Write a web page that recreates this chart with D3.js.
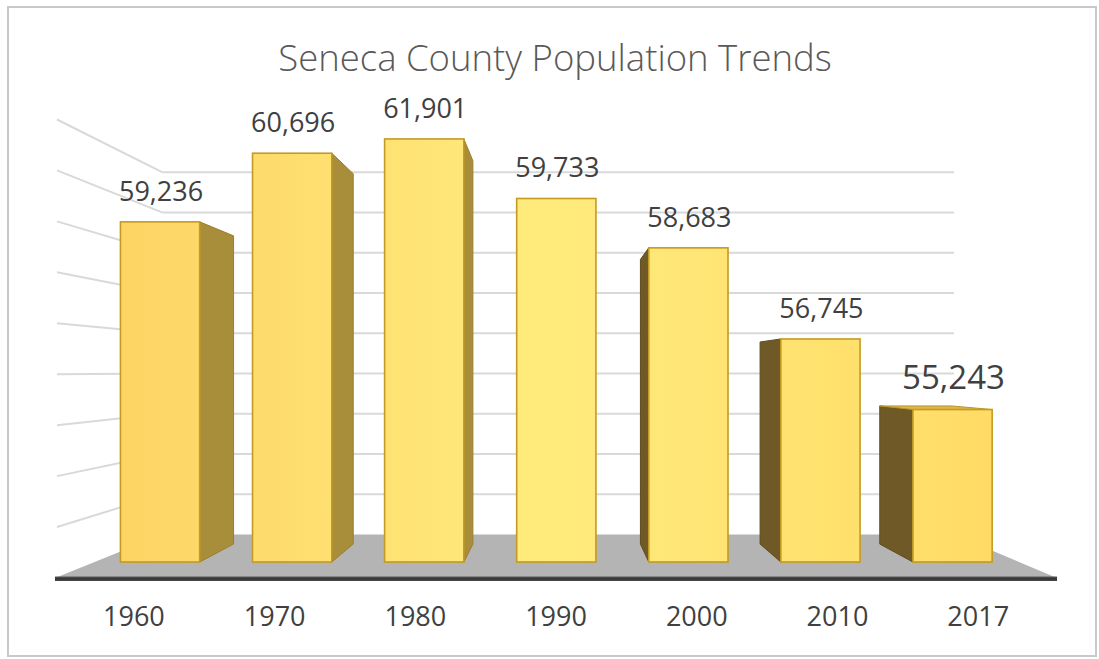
<!DOCTYPE html>
<html>
<head>
<meta charset="utf-8">
<script src="https://cdn.jsdelivr.net/npm/d3@7"></script>
<style>
  html, body { margin: 0; padding: 0; background: #ffffff; }
  svg { display: block; }
  text { font-family: "Open Sans", "Noto Sans", sans-serif; }
</style>
</head>
<body>
<svg id="chart" width="1099" height="659"></svg>
<script>
// Census counts for Seneca County
const years = ["1960", "1970", "1980", "1990", "2000", "2010", "2017"];
const population = [59236, 60696, 61901, 59733, 58683, 56745, 55243];

// Value axis: fixed range, one gridline per thousand
const axisMin = 52000;
const axisMax = 61000;
const gridStep = 1000;

const title = "Seneca County Population Trends";
const latestYear = "2017";

const W = 1099, H = 659;
const svg = d3.select("#chart");

// ---- 3D projection --------------------------------------------------------
// World x / height are measured in the plane of the floor's front edge (s = 1);
// deeper planes shrink toward the vanishing point by the factor s.
const VP = { x: 560, y: 371 };
const FLOOR_Y = 578;
const S_FRONT = 1, S_BAR_FRONT = 0.9227, S_BAR_BACK = 0.836, S_WALL = 0.79;
const WALL_LEFT = 57, WALL_RIGHT = 1058.7;
const FLOOR_LEFT = 55, FLOOR_RIGHT = 1057;

function proj(x, h, s) {
  return [VP.x + (x - VP.x) * s, VP.y + (FLOOR_Y - h - VP.y) * s];
}
const poly = pts => "M" + pts.map(p => p.join(",")).join("L") + "Z";

const x = d3.scaleBand()
  .domain(years)
  .range([FLOOR_LEFT, FLOOR_RIGHT])
  .paddingInner(0.4)
  .paddingOuter(0.2);

const y = d3.scaleLinear()
  .domain([axisMin, axisMax])
  .range([0, 458.5])
  .clamp(true);

const data = years.map((yr, i) => ({ year: yr, value: population[i] }));

// ---- frame ---------------------------------------------------------------
svg.append("rect")
  .attr("x", 8).attr("y", 7).attr("width", 1088).attr("height", 649)
  .attr("fill", "#ffffff").attr("stroke", "#c9c9c9").attr("stroke-width", 2);

// ---- gradients -----------------------------------------------------------
const defs = svg.append("defs");
const frontGrad = defs.append("linearGradient")
  .attr("id", "frontGrad").attr("gradientUnits", "userSpaceOnUse")
  .attr("x1", 100).attr("y1", 0).attr("x2", 1000).attr("y2", 0);
frontGrad.selectAll("stop").data([
  [0, "#fcd363"], [0.5, "#ffeb7d"], [1, "#ffdb65"]
]).join("stop").attr("offset", d => d[0]).attr("stop-color", d => d[1]);

const floorEdge = defs.append("linearGradient")
  .attr("id", "floorEdge").attr("x1", 0).attr("y1", 0).attr("x2", 0).attr("y2", 1);
floorEdge.selectAll("stop").data([
  [0, "#595959"], [0.5, "#333333"], [1, "#4a4a4a"]
]).join("stop").attr("offset", d => d[0]).attr("stop-color", d => d[1]);

// ---- walls: gridlines on the back and left walls -------------------------
const ticks = y.ticks((axisMax - axisMin) / gridStep).filter(t => t > axisMin);
const grid = svg.append("g")
  .attr("stroke", "#d9d9d9").attr("stroke-width", 2).attr("fill", "none");

grid.selectAll(".back").data(ticks).join("path")
  .attr("class", "back")
  .attr("d", t => "M" + proj(WALL_LEFT, y(t), S_WALL) + "L" + proj(WALL_RIGHT, y(t), S_WALL));

grid.selectAll(".side").data(ticks).join("path")
  .attr("class", "side")
  .attr("d", t => "M" + proj(WALL_LEFT, y(t), S_WALL) + "L" + proj(WALL_LEFT, y(t), S_FRONT));

// ---- floor ---------------------------------------------------------------
svg.append("path")
  .attr("d", poly([
    proj(FLOOR_LEFT, 0, S_FRONT), proj(FLOOR_RIGHT, 0, S_FRONT),
    proj(WALL_RIGHT, 0, S_WALL), proj(WALL_LEFT, 0, S_WALL)
  ]))
  .attr("fill", "#b4b4b4");

const [fx0, fy0] = proj(FLOOR_LEFT, 0, S_FRONT);
const [fx1] = proj(FLOOR_RIGHT, 0, S_FRONT);
svg.append("rect")
  .attr("x", fx0).attr("y", fy0 - 1.5)
  .attr("width", fx1 - fx0).attr("height", 4.5)
  .attr("fill", "url(#floorEdge)");

// ---- bars ----------------------------------------------------------------
const bars = svg.append("g").selectAll("g").data(data).join("g");

bars.each(function (d) {
  const g = d3.select(this);
  const x0 = x(d.year), x1 = x0 + x.bandwidth(), h = y(d.value);
  const sf = S_BAR_FRONT, sb = S_BAR_BACK;

  // side face facing the viewer
  if (x1 < VP.x) {
    g.append("path")
      .attr("d", poly([proj(x1, 0, sf), proj(x1, 0, sb), proj(x1, h, sb), proj(x1, h, sf)]))
      .attr("fill", "#a88d3b").attr("stroke", "#9a7f2e").attr("stroke-width", 1);
  } else if (x0 > VP.x) {
    g.append("path")
      .attr("d", poly([proj(x0, 0, sf), proj(x0, 0, sb), proj(x0, h, sb), proj(x0, h, sf)]))
      .attr("fill", "#6f5a27").attr("stroke", "#5f4c1f").attr("stroke-width", 1);
  }

  // top face is visible only when the bar top sits below eye level
  if (proj(x0, h, sf)[1] > VP.y) {
    g.append("path")
      .attr("d", poly([proj(x0, h, sf), proj(x1, h, sf), proj(x1, h, sb), proj(x0, h, sb)]))
      .attr("fill", "#dcb64a").attr("stroke", "#b8952a").attr("stroke-width", 1);
  }

  // front face
  const [ax, ay] = proj(x0, h, sf);
  const [bx, by] = proj(x1, 0, sf);
  g.append("rect")
    .attr("x", ax).attr("y", ay)
    .attr("width", bx - ax).attr("height", by - ay)
    .attr("fill", "url(#frontGrad)")
    .attr("stroke", "#c49a22").attr("stroke-width", 1.6);
});

// ---- value labels --------------------------------------------------------
svg.append("g").selectAll("text").data(data).join("text")
  .attr("x", d => proj(x(d.year) + x.bandwidth() / 2, y(d.value), S_BAR_FRONT)[0] + 1)
  .attr("y", d => proj(x(d.year), y(d.value), S_BAR_FRONT)[1] - 21)
  .attr("text-anchor", "middle")
  .attr("fill", "#404040")
  .attr("font-size", d => d.year === latestYear ? 33 : 27)
  .text(d => d3.format(",")(d.value));

// ---- category axis -------------------------------------------------------
svg.append("g").selectAll("text").data(years).join("text")
  .attr("x", d => proj(x(d) + x.bandwidth() / 2, 0, 0.983)[0])
  .attr("y", 626)
  .attr("text-anchor", "middle")
  .attr("fill", "#404040")
  .attr("font-size", 27)
  .text(d => d);

// ---- title ---------------------------------------------------------------
svg.append("text")
  .attr("x", 555).attr("y", 71)
  .attr("text-anchor", "middle")
  .attr("fill", "#595959")
  .attr("font-size", 36.5)
  .attr("font-weight", 300)
  .text(title);
</script>
</body>
</html>
